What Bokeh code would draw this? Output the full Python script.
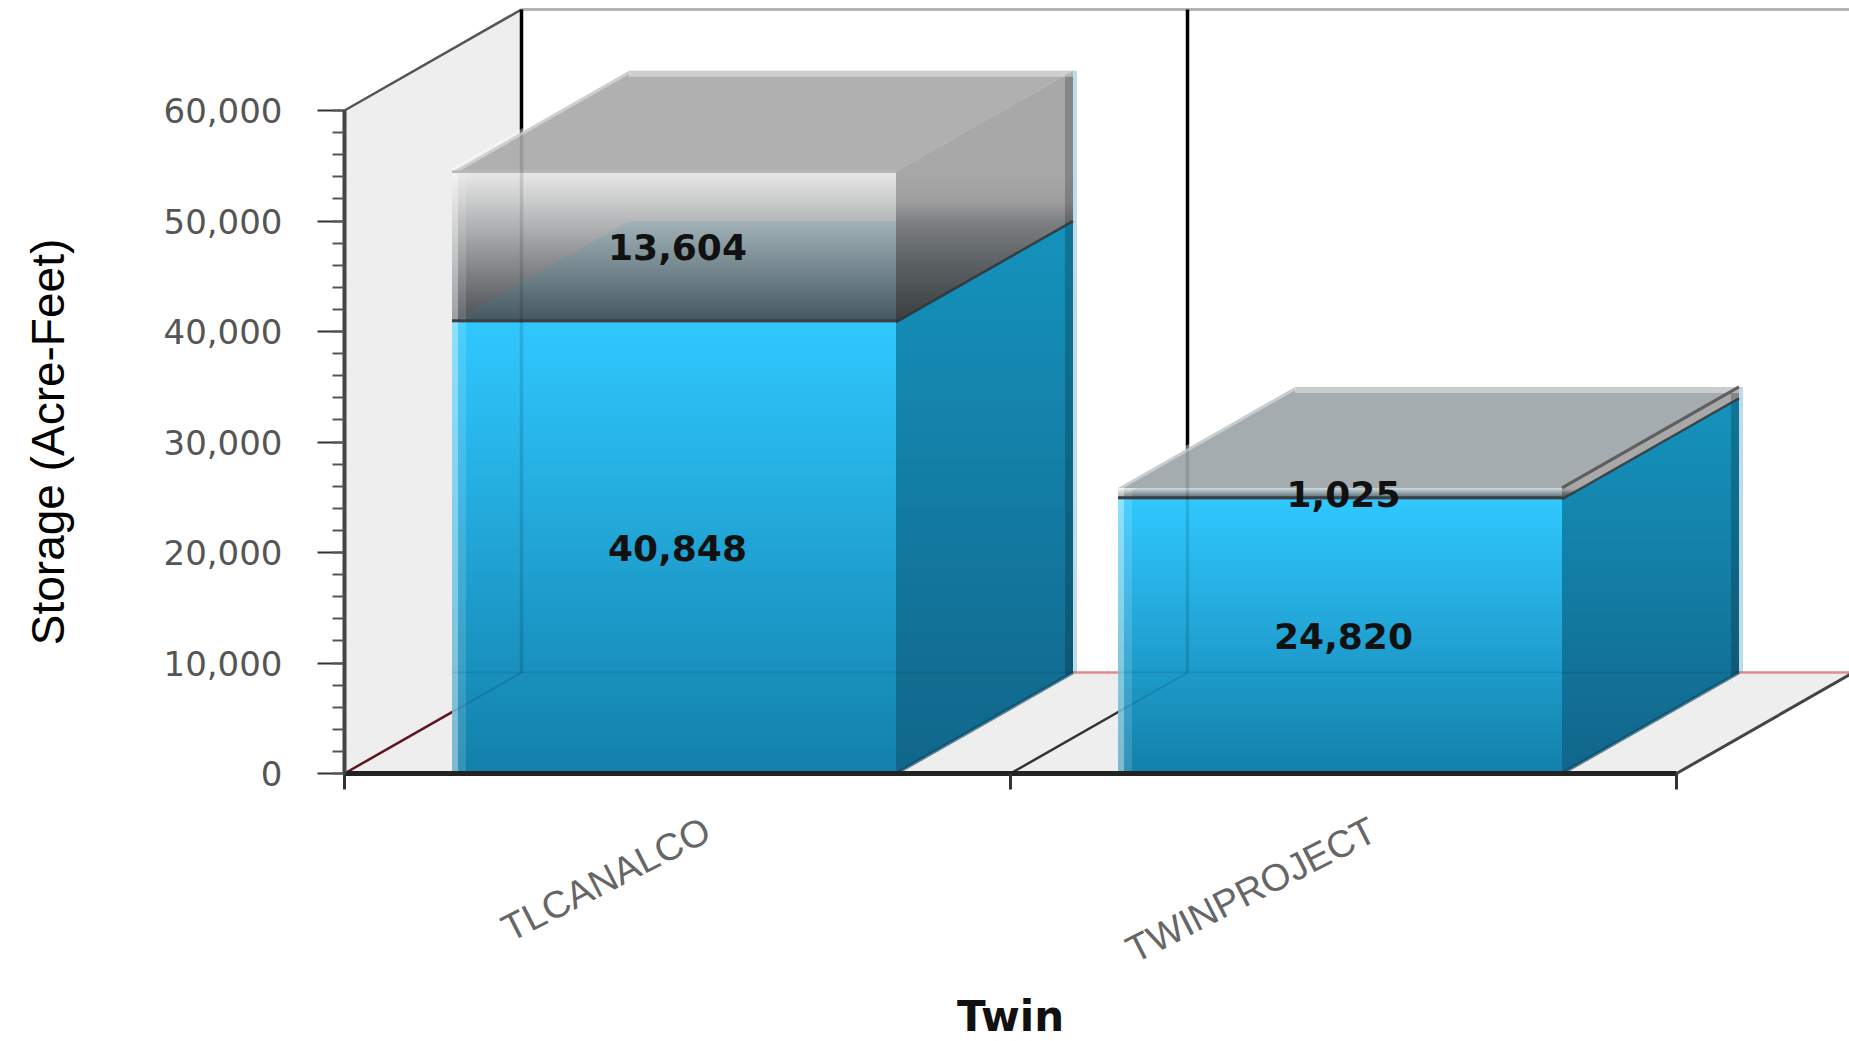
from bokeh.plotting import figure
from bokeh.models import Range1d, LinearAxis, FixedTicker, ColumnDataSource
from bokeh.core.properties import value
from bokeh.embed import file_html
from bokeh.resources import INLINE
import math

# ---- data
categories = ["TLCANALCO", "TWINPROJECT"]
blue_values = [40848, 24820]
gray_values = [13604, 1025]
blue_labels = ["40,848", "24,820"]
gray_labels = ["13,604", "1,025"]
y_ticks = [0, 10000, 20000, 30000, 40000, 50000, 60000]
y_tick_labels = ["0", "10,000", "20,000", "30,000", "40,000", "50,000", "60,000"]
y_title = "Storage (Acre-Feet)"
x_title = "Twin"

# ---- layout (pixels on the canvas)
W, H = 1849, 1041
LEFT, BOTTOM_PX = 344, 773
PX_Y_AXIS = 663.0          # height of 0..60000
PX_CAT = 666.0             # width of one category
YMAX = y_ticks[-1]
PY = YMAX / PX_Y_AXIS      # value per pixel
PX = 1.0 / PX_CAT          # category per pixel
DX, DY = 177 * PX, 101 * PY
BAR_L, BAR_R = 1 / 6 - 3.5 * PX, 5 / 6 - 3.5 * PX
x_end = (W - LEFT) * PX
y_end = BOTTOM_PX * PY

p = figure(width=W, height=H, output_backend="svg", toolbar_location=None,
           x_range=Range1d(-LEFT * PX, x_end), y_range=Range1d(-(H - BOTTOM_PX) * PY, y_end),
           x_axis_type=None, y_axis_type=None,
           min_border_left=0, min_border_bottom=0,
           min_border_top=0, min_border_right=0, title=None)
p.grid.visible = False
p.outline_line_color = None
p.background_fill_color = "white"


def h2r(h):
    return tuple(int(h[i:i + 2], 16) for i in (1, 3, 5))


def mix(a, b, t):
    a, b = h2r(a), h2r(b)
    return "#%02x%02x%02x" % tuple(round(a[i] + (b[i] - a[i]) * t) for i in range(3))


def color_at(stops, y):
    # stops: (value, colour) sorted with descending value
    if y >= stops[0][0]:
        return stops[0][1]
    for (y0, c0), (y1, c1) in zip(stops, stops[1:]):
        if y >= y1:
            return mix(c0, c1, (y0 - y) / (y0 - y1) if y0 != y1 else 0)
    return stops[-1][1]


def clip(poly, lim, keep_above):
    out = []
    n = len(poly)
    for i in range(n):
        a, b = poly[i], poly[(i + 1) % n]
        ina = a[1] >= lim if keep_above else a[1] <= lim
        inb = b[1] >= lim if keep_above else b[1] <= lim
        if ina:
            out.append(a)
        if ina != inb:
            t = (lim - a[1]) / (b[1] - a[1])
            out.append((a[0] + (b[0] - a[0]) * t, lim))
    return out


class Layer:
    def __init__(self):
        self.xs, self.ys, self.c, self.a = [], [], [], []

    def poly(self, pts, color, alpha=1.0):
        self.xs.append([q[0] for q in pts])
        self.ys.append([q[1] for q in pts])
        self.c.append(color)
        self.a.append(alpha)

    def gradient(self, pts, stops, step_px=2):
        # strips overlap the next one, which paints over the overlap
        step = step_px * PY
        lo = min(q[1] for q in pts)
        hi = max(q[1] for q in pts)
        k = math.floor(lo / step + 1e-9)
        while k * step < hi - 1e-9:
            s = clip(clip(pts, k * step, True), (k + 2) * step, False)
            if len(s) >= 3:
                self.poly(s, color_at(stops, (k + .5) * step))
            k += 1

    def draw(self):
        p.patches(xs="xs", ys="ys", fill_color="c", fill_alpha="a", line_color=None,
                  source=ColumnDataSource(dict(xs=self.xs, ys=self.ys, c=self.c, a=self.a)))


def seg(xs, ys, color, width, alpha=1.0):
    p.line(xs, ys, line_color=color, line_width=width, line_alpha=alpha, line_cap="butt")


# ---- walls and floor
bg = Layer()
bg.poly([(0, 0), (DX, DY), (DX, YMAX + DY), (0, YMAX)], "#eeeeee")
bg.poly([(0, 0), (2, 0), (2 + DX, DY), (DX, DY)], "#eeeeee")
bg.draw()
seg([DX, x_end], [DY, DY], "#e08c8c", 2.5)
seg([DX, x_end], [YMAX + DY, YMAX + DY], "#b4b4b4", 3)
seg([0, DX], [YMAX, YMAX + DY], "#555555", 2.5)
for c in (0, 1):
    seg([c + DX, c + DX], [DY, YMAX + DY], "#000000", 3.5)
seg([0, DX], [0, DY], "#5a1520", 2.5)
seg([1, 1 + DX], [0, DY], "#333333", 2.5)
seg([2, 2 + DX], [0, DY], "#444444", 3)

# ---- stacked 3D bars
top_face = ["#b0b0b0", "#a4acb0"]
bars = Layer()
later = []
for i, name in enumerate(categories):
    x0, x1 = i + BAR_L, i + BAR_R
    yb = blue_values[i]
    yt = yb + gray_values[i]
    # blue box
    bars.gradient([(x1, 0), (x1 + DX, DY), (x1 + DX, yb + DY), (x1, yb)],
                  [(yb + DY, "#1593bd"), (0, "#11668a")])
    bars.gradient([(x0, 0), (x1, 0), (x1, yb), (x0, yb)],
                  [(yb, "#30c8ff"), (0, "#1280aa")])
    # grey box
    bars.poly([(x0, yt), (x1, yt), (x1 + DX, yt + DY), (x0 + DX, yt + DY)], top_face[i])
    g = yt - yb
    bars.gradient([(x1, yb), (x1 + DX, yb + DY), (x1 + DX, yt + DY), (x1, yt)],
                  [(yt, "#a8a8a8"), (yt - .2 * g, "#9d9d9d"), (yt - .33 * g, "#7c8082"),
                   (yt - .63 * g, "#5a5f62"), (yb, "#3a3e41")])
    bars.gradient([(x0, yb), (x1, yb), (x1, yt), (x0, yt)],
                  [(yt, "#e9e9e9"), (yb, "#4a4f53")])
    # blue box's top seen through the grey front
    d = min(DY, g)
    f = d / DY
    bars.poly([(x0, yb), (x1, yb), (x1, yb + d), (x0 + DX * f, yb + d)], "#2090b8", .13)
    # light band on the left of the front
    bars.poly([(x0, 0), (x0 + 6 * PX, 0), (x0 + 6 * PX, yt), (x0, yt)], "#ffffff", .45)
    bars.poly([(x0 + 6 * PX, 0), (x0 + 14 * PX, 0), (x0 + 14 * PX, yt), (x0 + 6 * PX, yt)], "#ffffff", .14)
    # right edge of the side
    rx = x1 + DX
    bars.poly([(rx - 8 * PX, DY - 8 * PX / DX * DY), (rx, DY), (rx, yt + DY),
               (rx - 8 * PX, yt + DY - 8 * PX / DX * DY)], "#000000", .2)
    bars.poly([(rx, DY), (rx + 4 * PX, DY), (rx + 4 * PX, yt + DY), (rx, yt + DY)], "#1280aa", .28)
    # lighter back and left edges of the top
    bars.poly([(x0 + DX, yt + DY), (rx, yt + DY), (rx, yt + DY - 6 * PY), (x0 + DX, yt + DY - 6 * PY)], "#ffffff", .4)
    later.append((i, x0, x1, yb, yt))
bars.draw()

for i, x0, x1, yb, yt in later:
    rx = x1 + DX
    seg([x0, x0 + DX], [yt, yt + DY], "#ffffff", 6, .4)
    seg([x1, rx], [yb, yb + DY], "#2e3438", 2.5, .85)
    seg([x1, rx], [0, DY], "#0c4a66", 3.5, .65)
    seg([x0, x1], [yb + 1.5 * PY, yb + 1.5 * PY], "#3a4045", 3)
    seg([x0, x1], [0, 0], "#0c5a7a", 4, .5)
    if i == 1:
        seg([x1, rx], [yt, yt + DY], "#555555", 3, .9)
    else:
        seg([x0, x1], [yt, yt], "#b8b8b8", 2.5)
    # wall and floor lines showing faintly through the bar
    cx = i + DX
    top_y = yt + (cx - x0) / DX * DY
    seg([cx, cx], [DY, top_y], "#000000", 3.5, .12)
    t = (x0 - i) / DX
    seg([x0, cx], [t * DY, DY], "#000000", 2, .12)
    seg([x0, rx], [DY, DY], "#000000", 2, .08)

# ---- value labels
lx, ly, lt = [], [], []
for i in range(len(categories)):
    cx = i + .5
    lx += [cx, cx]
    ly += [blue_values[i] / 2, blue_values[i] + gray_values[i] / 2]
    lt += [blue_labels[i], gray_labels[i]]
p.text(lx, ly, text=lt, text_align="center", text_baseline="middle",
       text_font=value("DejaVu Sans"), text_font_style="bold",
       text_font_size="36px", text_color="#111111")

# ---- axis titles
p.text([1], [-243 * PY], text=[x_title], text_align="center", text_baseline="alphabetic",
       text_font=value("DejaVu Sans"), text_font_style="bold",
       text_font_size="42px", text_color="#111111")
p.text([(47 - LEFT) * PX], [YMAX / 2], text=[y_title], angle=math.pi / 2,
       text_align="center", text_baseline="middle",
       text_font=value("Liberation Sans"), text_font_size="46px", text_color="#000000")

# ---- axes
ya = LinearAxis(ticker=FixedTicker(ticks=y_ticks, minor_ticks=[v for v in range(0, YMAX + 1, 2000)]),
                major_label_overrides=dict(zip(y_ticks, y_tick_labels)),
                bounds=(0, YMAX), fixed_location=0)
ya.axis_line_color = "#444444"
ya.axis_line_width = 4
ya.major_tick_out, ya.major_tick_in = 27, 0
ya.minor_tick_out, ya.minor_tick_in = 12, 0
ya.major_tick_line_color = "#333333"
ya.major_tick_line_width = 2
ya.minor_tick_line_color = "#555555"
ya.minor_tick_line_width = 2
ya.major_label_standoff = 35
ya.major_label_text_font = "DejaVu Sans"
ya.major_label_text_font_size = "34px"
ya.major_label_text_color = "#555555"
p.add_layout(ya, "left")

xa = LinearAxis(ticker=FixedTicker(ticks=[.545, 1.545], minor_ticks=[0, 1, 2]),
                major_label_overrides={.545: categories[0], 1.545: categories[1]},
                bounds=(0, 2), fixed_location=0)
xa.axis_line_color = "#222222"
xa.axis_line_width = 5
xa.major_tick_out, xa.major_tick_in = 0, 0
xa.major_tick_line_color = None
xa.minor_tick_out, xa.minor_tick_in = 16, 0
xa.minor_tick_line_color = "#333333"
xa.minor_tick_line_width = 3
xa.major_label_orientation = math.radians(27)
xa.major_label_standoff = 38
xa.major_label_text_font = "Liberation Sans"
xa.major_label_text_font_size = "38px"
xa.major_label_text_color = "#666666"
p.add_layout(xa, "below")

open("out.html", "w").write(file_html(p, INLINE))
